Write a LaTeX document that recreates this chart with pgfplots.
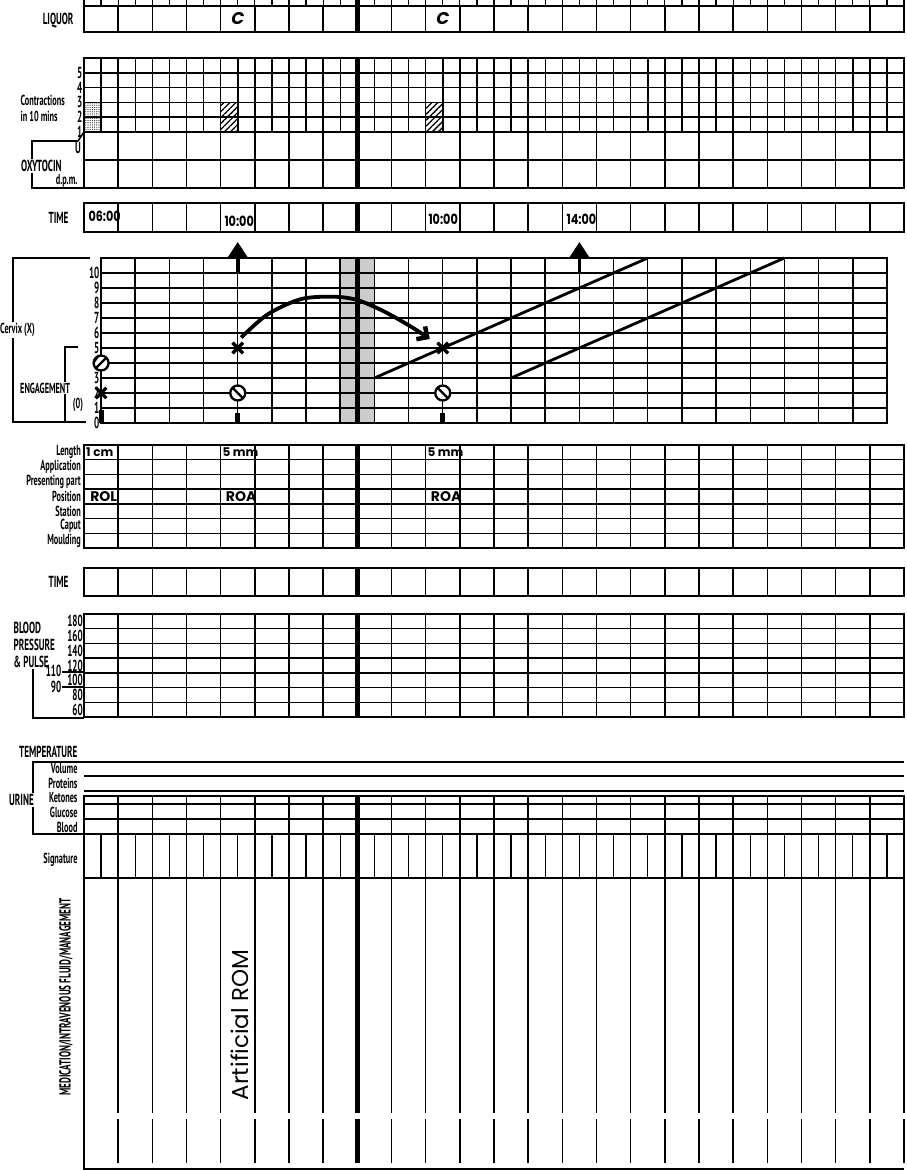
\documentclass[border=0pt]{standalone}
\usepackage{pgfplots}
\pgfplotsset{compat=1.18}
\usepackage{fontspec}
\setmainfont{PT Sans}
\newfontfamily\cond[FakeStretch=0.57]{PT Sans}
\newfontfamily\hand{Poppins}
\newfontfamily\timf[FakeStretch=0.8]{Poppins}
\usetikzlibrary{patterns,patterns.meta,arrows.meta}
\newcommand\lab{\cond\bfseries\fontsize{16}{16}\selectfont}
\newcommand\labs{\cond\bfseries\fontsize{14.5}{14.5}\selectfont}

\pgfdeclareplotmark{descA}{%
  \pgfpathcircle{\pgfpointorigin}{\pgfplotmarksize}%
  \pgfusepathqfillstroke
  \pgfpathmoveto{\pgfqpoint{-0.72\pgfplotmarksize}{-0.72\pgfplotmarksize}}%
  \pgfpathlineto{\pgfqpoint{0.72\pgfplotmarksize}{0.72\pgfplotmarksize}}%
  \pgfusepathqstroke
  \begin{pgfscope}%
  \pgfsetfillcolor{black}%
  \pgfpathmoveto{\pgfqpoint{-0.17\pgfplotmarksize}{0.98\pgfplotmarksize}}%
  \pgfpatharc{100}{190}{\pgfplotmarksize}%
  \pgfpathclose
  \pgfusepathqfill
  \end{pgfscope}%
}
\pgfdeclareplotmark{descB}{%
  \pgfpathcircle{\pgfpointorigin}{\pgfplotmarksize}%
  \pgfusepathqfillstroke
  \pgfpathmoveto{\pgfqpoint{-0.72\pgfplotmarksize}{0.72\pgfplotmarksize}}%
  \pgfpathlineto{\pgfqpoint{0.72\pgfplotmarksize}{-0.72\pgfplotmarksize}}%
  \pgfusepathqstroke
  \begin{pgfscope}%
  \pgfsetfillcolor{black}%
  \pgfpathmoveto{\pgfqpoint{-0.98\pgfplotmarksize}{0.17\pgfplotmarksize}}%
  \pgfpatharc{170}{100}{\pgfplotmarksize}%
  \pgfpathclose
  \pgfusepathqfill
  \end{pgfscope}%
}

\pgfplotsset{
  sec/.style={scale only axis, anchor=north west, clip=false,
    xmin=-0.5, xmax=23.5, width=820pt,
    xtick={-0.5,0.5,...,23.5}, xticklabels={},
    ytick=\empty,
    xmajorgrids, ymajorgrids,
    tick style={draw=none},
    axis line style={line width=1.8pt},
    major grid style={line width=1.5pt, black},
    minor grid style={line width=1.5pt, black},
    yticklabel style={font=\lab, inner xsep=2pt, inner ysep=0pt},
  },
  divider/.style={line width=5.5pt, black},
  hatch/.style={draw=black, line width=0.8pt, pattern={Lines[angle=45, distance=4.2pt, line width=1.3pt]}},
}

\begin{document}
\begin{tikzpicture}
\useasboundingbox (0pt,0pt) rectangle (906pt,-1170pt);

% LIQUOR
\begin{axis}[sec, at={(84pt,-6pt)}, height=26pt, ymin=0, ymax=1,
  minor xtick={0,1,...,23}, xtick pos=right, tick align=outside,
  major tick length=6pt, minor tick length=6pt,
  tick style={draw=black, line width=1.2pt}]
  \addplot[divider] coordinates {(7.5,0) (7.5,1.23)};
  \node[font=\hand\bfseries\itshape\fontsize{17}{17}\selectfont] at (axis cs:4,0.5) {C};
  \node[font=\hand\bfseries\itshape\fontsize{17}{17}\selectfont] at (axis cs:10,0.5) {C};
\end{axis}

% CONTRACTIONS
\begin{axis}[sec, at={(84pt,-58pt)}, height=74pt, ymin=1, ymax=6,
  xtick={-0.5,0,...,23.5}, ytick={1,2,3,4,5,6}, yticklabels={1,2,3,4,5,{}},
  yticklabel style={inner xsep=1.5pt}]
  \addplot[draw=black, line width=0.8pt, pattern={Dots[distance=2.2pt, radius=0.6pt]}, pattern color=black!85] coordinates {(-0.5,1) (0,1) (0,3) (-0.5,3) (-0.5,1)};
  \addplot[hatch] coordinates {(3.5,1) (4,1) (4,3) (3.5,3) (3.5,1)};
  \addplot[hatch] coordinates {(9.5,1) (10,1) (10,3) (9.5,3) (9.5,1)};
  \addplot[divider] coordinates {(7.5,1) (7.5,6)};
\end{axis}

% OXYTOCIN
\begin{axis}[sec, at={(84pt,-132pt)}, height=56pt, ymin=0, ymax=2, ytick={0,1,2}, yticklabels={}]
  \addplot[divider] coordinates {(7.5,0) (7.5,2)};
\end{axis}

% TIME 1
\begin{axis}[sec, at={(84pt,-203pt)}, height=29pt, ymin=0, ymax=1]
  \addplot[divider] coordinates {(7.5,0) (7.5,1)};
\end{axis}

% CERVIX
\begin{axis}[sec, at={(101.08pt,-258pt)}, width=785.83pt, height=165pt,
  xmin=0, xmax=23, ymin=0, ymax=11, xtick={0,1,...,23},
  ytick={0,1,...,11}, yticklabels={0,1,2,3,{},5,6,7,8,9,10,{}},
  yticklabel style={inner xsep=1.5pt}]
  \addplot[fill=gray!40, draw=none, blend mode=multiply] coordinates {(7,0) (8,0) (8,11) (7,11)};
  \addplot[divider] coordinates {(7.5,0) (7.5,11)};
  % alert and action lines
  \addplot[line width=2.8pt] coordinates {(8,3) (16,11)};
  \addplot[line width=2.8pt] coordinates {(12,3) (20,11)};
  % curved arrow
  \addplot[line width=3.8pt, smooth, -{Straight Barb[angle=90:11pt, line width=4.5pt]}] coordinates {(4.1,5.7) (4.88,7.25) (5.85,8.26) (6.8,8.42) (7.5,8.2) (8.27,7.45) (9.06,6.44) (9.62,5.6)};
  % up arrows
  \addplot[line width=3.8pt, -{Triangle[width=21pt,length=17pt]}] coordinates {(4,10.1) (4,12.07)};
  \addplot[line width=3.8pt, -{Triangle[width=21pt,length=17pt]}] coordinates {(14,10.1) (14,12.07)};
  % bars at base
  \addplot[line width=5pt] coordinates {(0,0) (0,0.9)};
  \addplot[line width=5pt] coordinates {(4,0) (4,0.7)};
  \addplot[line width=5pt] coordinates {(10,0) (10,0.7)};
  % descent
  \addplot[only marks, mark=descA, mark size=7.5pt, mark options={fill=white, line width=2.3pt}] coordinates {(0,4)};
  \addplot[only marks, mark=descB, mark size=7.5pt, mark options={fill=white, line width=2.3pt}] coordinates {(4,2) (10,2)};
  % dilation
  \addplot[only marks, mark=x, mark size=7.5pt, mark options={line width=3.2pt}] coordinates {(0,2) (4,5) (10,5)};
\end{axis}

% LENGTH ... MOULDING
\begin{axis}[sec, at={(84pt,-445pt)}, height=103pt, ymin=0, ymax=7,
  ytick={0.5,1.5,...,6.5},
  yticklabels={Moulding,Caput,Station,Position,Presenting part,Application,Length},
  minor ytick={0,1,...,7}, ymajorgrids=false, yminorgrids,
  yticklabel style={font=\labs, inner xsep=3pt, inner ysep=0pt}]
  \addplot[divider] coordinates {(7.5,0) (7.5,7)};
  \node[anchor=west, inner xsep=1pt, font=\hand\bfseries\fontsize{12}{12}\selectfont] at (axis cs:-0.47,6.5) {1 cm};
  \node[anchor=west, inner xsep=1pt, font=\hand\bfseries\fontsize{12}{12}\selectfont] at (axis cs:3.52,6.5) {5 mm};
  \node[anchor=west, inner xsep=1pt, font=\hand\bfseries\fontsize{12}{12}\selectfont] at (axis cs:9.52,6.5) {5 mm};
  \node[anchor=west, font=\hand\bfseries\fontsize{14}{14}\selectfont] at (axis cs:-0.42,3.5) {ROL};
  \node[anchor=west, font=\hand\bfseries\fontsize{14}{14}\selectfont] at (axis cs:3.55,3.5) {ROA};
  \node[anchor=west, font=\hand\bfseries\fontsize{14}{14}\selectfont] at (axis cs:9.55,3.5) {ROA};
\end{axis}

% TIME 2
\begin{axis}[sec, at={(84pt,-568pt)}, height=28pt, ymin=0, ymax=1]
  \addplot[divider] coordinates {(7.5,0) (7.5,1)};
\end{axis}

% BLOOD PRESSURE
\begin{axis}[sec, at={(84pt,-614pt)}, height=103pt, ymin=0, ymax=7,
  ytick={0.5,1.5,...,6.5}, yticklabels={60,80,100,120,140,160,180},
  minor ytick={0,1,...,7}, ymajorgrids=false, yminorgrids,
  yticklabel style={inner xsep=1pt}]
  \addplot[divider] coordinates {(7.5,0) (7.5,7)};
\end{axis}

% URINE BOX
\begin{axis}[sec, at={(84pt,-796pt)}, height=38pt, ymin=796, ymax=834, y dir=reverse,
  ytick={804,819}, yticklabels={}]
  \addplot[divider] coordinates {(7.5,796) (7.5,834)};
\end{axis}

% SIGNATURE
\begin{axis}[sec, at={(84pt,-834pt)}, height=44pt, ymin=0, ymax=1,
  minor xtick={0,1,...,23}, xminorgrids, minor grid style={line width=1.2pt, black}]
  \addplot[divider] coordinates {(7.5,0) (7.5,1)};
\end{axis}

% MEDICATION
\begin{axis}[scale only axis, anchor=north west, clip=false, at={(84pt,-878pt)},
  width=820pt, height=291pt, xmin=-0.5, xmax=23.5, ymin=878, ymax=1169, y dir=reverse, hide axis]
  \pgfplotsinvokeforeach{0.5,1.5,2.5,3.5,4.5,5.5,6.5,8.5,9.5,10.5,11.5,12.5,13.5,14.5,15.5,16.5,17.5,18.5,19.5,20.5,21.5,22.5,23.5}{
    \addplot[line width=1.5pt] coordinates {(#1,878) (#1,1113)};
    \addplot[line width=1.5pt] coordinates {(#1,1119) (#1,1163)};
  }
  \addplot[divider] coordinates {(7.5,878) (7.5,1113)};
  \addplot[divider] coordinates {(7.5,1119) (7.5,1163)};
  \addplot[line width=1.8pt] coordinates {(-0.5,878) (-0.5,1169) (23.5,1169)};
  \node[rotate=90, font=\hand\fontsize{23}{23}\selectfont] at (axis cs:4.05,1025) {Artificial ROM};
\end{axis}

% PAGE OVERLAY: brackets and labels
\begin{axis}[scale only axis, anchor=north west, clip=false, at={(0pt,0pt)},
  width=906pt, height=1170pt, xmin=0, xmax=906, ymin=0, ymax=1170, y dir=reverse,
  hide axis]
  \addplot[line width=1.6pt] coordinates {(84,132) (78,141) (32,141) (32,188) (84,188)};
  \addplot[line width=1.6pt] coordinates {(90,258) (13,258) (13,422) (86,422)};
  \addplot[line width=1.6pt] coordinates {(78,347) (65,347) (65,422)};
  \addplot[line width=1.4pt] coordinates {(33,669) (33,718) (84,718)};
  \addplot[line width=1.4pt] coordinates {(62,672) (84,672)};
  \addplot[line width=1.4pt] coordinates {(62,687) (84,687)};
  \addplot[line width=1.6pt] coordinates {(904,762) (33,762) (33,834) (84,834)};
  \addplot[line width=1.6pt] coordinates {(84,776) (904,776)};
  \addplot[line width=1.6pt] coordinates {(84,791) (904,791)};
  % labels
  \node[anchor=east, font=\lab] at (axis cs:77,20) {LIQUOR};
  \node[anchor=west, font=\labs, inner ysep=0pt] at (axis cs:17,100) {Contractions};
  \node[anchor=west, font=\labs, inner ysep=0pt] at (axis cs:17,116) {in 10 mins};
  \node[font=\lab, inner sep=0pt] at (axis cs:78,148) {U};
  \node[anchor=west, font=\lab, fill=white, inner sep=1pt] at (axis cs:20,166) {OXYTOCIN};
  \node[anchor=east, font=\labs, inner ysep=0pt] at (axis cs:81,181) {d.p.m.};
  \node[font=\lab] at (axis cs:58.5,218) {TIME};
  \node[anchor=west, font=\timf\bfseries\fontsize{14}{14}\selectfont] at (axis cs:85,216) {06:00};
  \node[anchor=west, font=\timf\bfseries\fontsize{14}{14}\selectfont] at (axis cs:221,221) {10:00};
  \node[anchor=west, font=\timf\bfseries\fontsize{14}{14}\selectfont] at (axis cs:425,219) {10:00};
  \node[anchor=west, font=\timf\bfseries\fontsize{14}{14}\selectfont] at (axis cs:563,219) {14:00};
  \node[anchor=west, font=\labs, fill=white, inner sep=1pt] at (axis cs:-1,330) {Cervix (X)};
  \node[anchor=west, font=\labs, fill=white, inner sep=1pt] at (axis cs:19,388) {ENGAGEMENT};
  \node[font=\labs, inner sep=0pt] at (axis cs:78,405) {(0)};
  \node[font=\lab] at (axis cs:58.5,582) {TIME};
  \node[anchor=west, font=\lab, inner xsep=0.5pt, inner ysep=0pt] at (axis cs:13,628) {BLOOD};
  \node[anchor=west, font=\lab, inner xsep=0.5pt, inner ysep=0pt] at (axis cs:13,645) {PRESSURE};
  \node[anchor=west, font=\lab, inner xsep=0.5pt, inner ysep=0pt] at (axis cs:13,662) {\& PULSE};
  \node[anchor=east, font=\lab, inner sep=0.5pt] at (axis cs:62,671) {110};
  \node[anchor=east, font=\lab, inner sep=0.5pt] at (axis cs:62,687) {90};
  \node[anchor=east, font=\lab, inner ysep=0pt] at (axis cs:81,752) {TEMPERATURE};
  \node[anchor=east, font=\labs, inner ysep=0pt] at (axis cs:81,769) {Volume};
  \node[anchor=east, font=\labs, inner ysep=0pt] at (axis cs:81,783) {Proteins};
  \node[anchor=east, font=\labs, inner ysep=0pt] at (axis cs:81,798) {Ketones};
  \node[anchor=east, font=\labs, inner ysep=0pt] at (axis cs:81,812) {Glucose};
  \node[anchor=east, font=\labs, inner ysep=0pt] at (axis cs:81,827) {Blood};
  \node[anchor=west, font=\lab, fill=white, inner sep=1pt] at (axis cs:8,800) {URINE};
  \node[anchor=east, font=\labs] at (axis cs:81,860) {Signature};
  \node[rotate=90, font=\lab] at (axis cs:66,997) {MEDICATION/INTRAVENOUS FLUID/MANAGEMENT};
\end{axis}
\end{tikzpicture}
\end{document}
